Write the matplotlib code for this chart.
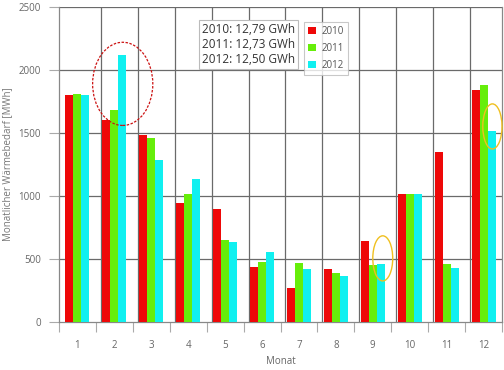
import numpy as np
import matplotlib
matplotlib.use('Agg')
import matplotlib.pyplot as plt
from matplotlib.patches import Ellipse

# Monatlicher Wärmebedarf in MWh
monate = [str(m) for m in range(1, 13)]
werte_2010 = [1800, 1600, 1484, 943, 896, 440, 270, 419, 646, 1012, 1349, 1842]
werte_2011 = [1810, 1685, 1460, 1017, 652, 480, 466, 392, 450, 1012, 464, 1884]
werte_2012 = [1800, 2120, 1282, 1137, 636, 556, 424, 366, 461, 1017, 427, 1513]
jahre = ['2010', '2011', '2012']
summen = ['12,79', '12,73', '12,50']
farben = ['#ee0808', '#66ee0a', '#10f0f0']

plt.rcParams['font.family'] = ['Open Sans', 'DejaVu Sans']

fig = plt.figure(figsize=(5.04, 3.70), dpi=100)
ax = fig.add_axes([59 / 504, 48 / 370, 443 / 504, 315 / 370])

x = np.arange(len(monate))
w = 0.216
for i, (werte, farbe, jahr) in enumerate(zip([werte_2010, werte_2011, werte_2012], farben, jahre)):
    ax.bar(x + (i - 1) * w, werte, width=w, color=farbe, label=jahr, zorder=3)

ax.set_xlim(-0.5, 11.5)
ax.set_ylim(0, 2500)

# Gitter
gridfarbe = '#6a6a6a'
for yv in range(500, 2501, 500):
    ax.axhline(yv, color=gridfarbe, lw=0.9, zorder=1)
for b in np.arange(0.5, 11, 1.0):
    ax.axvline(b + 0.135, color=gridfarbe, lw=0.9, zorder=1)

for s in ['left', 'right', 'bottom']:
    ax.spines[s].set_color('#888888')
    ax.spines[s].set_linewidth(0.9)
ax.spines['top'].set_visible(False)

ax.set_yticks(range(0, 2501, 500))
ax.set_xticks(x)
ax.set_xticklabels(monate)
ax.set_xticks(np.arange(-0.5, 12, 1.0), minor=True)
ax.tick_params(axis='x', which='major', length=0, pad=13, labelsize=7, labelcolor='#666666')
ax.tick_params(axis='x', which='minor', length=7, color='#aaaaaa', width=0.8)
ax.tick_params(axis='y', length=7, color='#aaaaaa', width=0.8, labelsize=7, labelcolor='#666666', pad=6)

ax.set_xlabel('Monat', fontsize=7, color='#666666')
ax.set_ylabel('Monatlicher Wärmebedarf [MWh]', fontsize=7, color='#777777')
ax.xaxis.set_label_coords(0.5, -0.108)
ax.yaxis.set_label_coords(-0.104, 0.5)

# Jahressummen
text = '\n'.join(f'{j}: {s} GWh' for j, s in zip(jahre, summen))
ax.text(0.322, 0.949, text, transform=ax.transAxes, fontsize=8.5, color='#333333',
        va='top', ha='left', linespacing=1.22, zorder=5,
        bbox=dict(boxstyle='square,pad=0.25', fc='white', ec='#bbbbbb', lw=0.8))

leg = ax.legend(loc='upper left', bbox_to_anchor=(0.553, 0.952), fontsize=7, frameon=True,
                fancybox=False, edgecolor='#bbbbbb', handlelength=0.8, handleheight=0.8,
                handletextpad=0.6, labelspacing=0.6, borderpad=0.4, borderaxespad=0)
leg.get_frame().set_linewidth(0.8)
for t in leg.get_texts():
    t.set_color('#555555')

# Markierungen
ax.add_patch(Ellipse((1.226, 1890), 1.63, 660, fill=False, ec='#cc1111', ls=(0, (2, 1.2)), lw=0.9, zorder=6))
ax.add_patch(Ellipse((8.27, 505), 0.54, 358, fill=False, ec='#f0c020', lw=1.0, zorder=6))
ax.add_patch(Ellipse((11.24, 1552), 0.52, 358, fill=False, ec='#f0c020', lw=1.0, zorder=6, clip_on=False))

fig.savefig('out.png', dpi=100, facecolor='white')
